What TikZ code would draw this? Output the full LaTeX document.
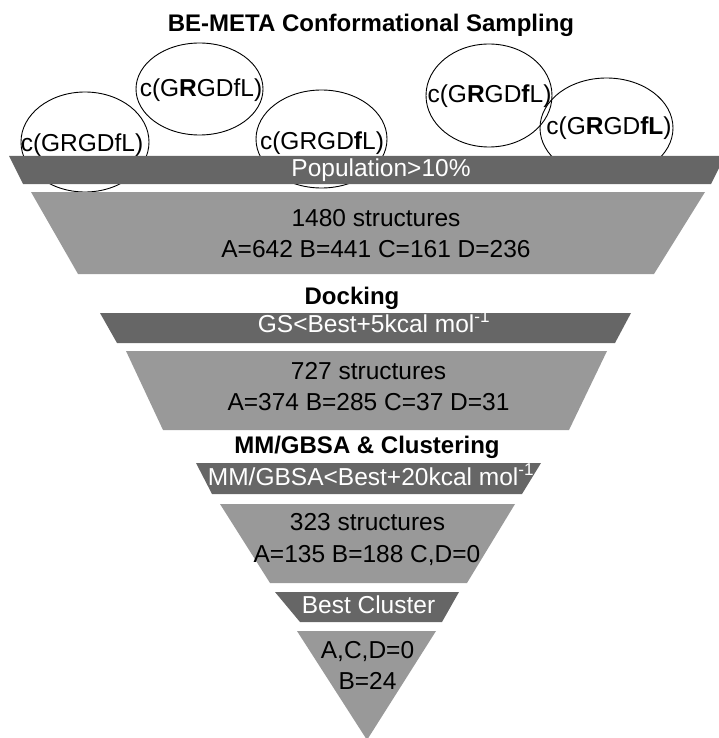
\documentclass[tikz,border=0pt]{standalone}
\usepackage{fontspec}
\setmainfont{Liberation Sans}
\definecolor{darkbar}{gray}{0.4}
\definecolor{lightbar}{gray}{0.6}

\begin{document}
\begin{tikzpicture}[x=1pt,y=-1pt,
  lbl/.style={anchor=base,inner sep=0pt,font=\fontsize{24.5}{28}\selectfont},
  wlbl/.style={lbl,text=white},
  hdr/.style={lbl,font=\fontsize{24}{28}\selectfont\bfseries}]
\useasboundingbox (0,0) rectangle (719,738);

\node[hdr] (sampling) at (371,32) {BE-META Conformational Sampling};

\draw[line width=0.9pt] (85,142) ellipse [x radius=64, y radius=50];
\draw[line width=0.9pt] (199.5,89) ellipse [x radius=63.5, y radius=46];
\draw[line width=0.9pt] (321.5,139) ellipse [x radius=65.5, y radius=49];
\draw[line width=0.9pt] (489,95.5) ellipse [x radius=63, y radius=51.5];
\draw[line width=0.9pt] (606.5,128) ellipse [x radius=66.5, y radius=50];
\node[lbl] (pepA) at (82,152) {c(GRGDfL)};
\node[lbl] (pepB) at (201,97) {c(G\textbf{R}GDfL)};
\node[lbl] (pepC) at (322,150) {c(GRGD\textbf{f}L)};
\node[lbl] (pepD) at (489.5,103) {c(G\textbf{R}GD\textbf{f}L)};
\node[lbl] (pepE) at (609,135) {c(G\textbf{R}GD\textbf{fL})};

\fill[darkbar] (9,156) -- (725,156) -- (711,184) -- (23,184) -- cycle;
\fill[lightbar] (31,192) -- (705,192) -- (654,274) -- (78,274) -- cycle;
\fill[darkbar] (100,313) -- (631,313) -- (615,343) -- (117,343) -- cycle;
\fill[lightbar] (126,351) -- (607,351) -- (569,430) -- (163,430) -- cycle;
\fill[darkbar] (196,463) -- (541,463) -- (522,494) -- (212,494) -- cycle;
\fill[lightbar] (220,504) -- (515,504) -- (467,583) -- (270,583) -- cycle;
\fill[darkbar] (275,592) -- (459,592) -- (442,622) -- (300,622) -- cycle;
\fill[lightbar] (297,631) -- (436,631) -- (367,740) -- cycle;

\node[wlbl] (pop) at (381,177) {Population>10\%};
\node[lbl] (nA) at (376,226) {1480 structures};
\node[lbl] (cntA) at (376,257) {A=642 B=441 C=161 D=236};

\node[hdr] (docking) at (352,304) {Docking};
\node[wlbl] (gs) at (374,332) {GS<Best+5kcal mol\textsuperscript{-1}};
\node[lbl] (nB) at (368.5,379) {727 structures};
\node[lbl] (cntB) at (368.5,410) {A=374 B=285 C=37 D=31};

\node[hdr] (mmgbsa) at (367,453) {MM/GBSA \& Clustering};
\node[wlbl] (mm) at (371,485) {MM/GBSA<Best+20kcal mol\textsuperscript{-1}};
\node[lbl] (nC) at (367.5,530) {323 structures};
\node[lbl] (cntC) at (367,562) {A=135 B=188 C,D=0};

\node[wlbl] (best) at (368.5,613) {Best Cluster};
\node[lbl] (cntD) at (367.5,658) {A,C,D=0};
\node[lbl] (cntE) at (367.5,689) {B=24};
\end{tikzpicture}
\end{document}
